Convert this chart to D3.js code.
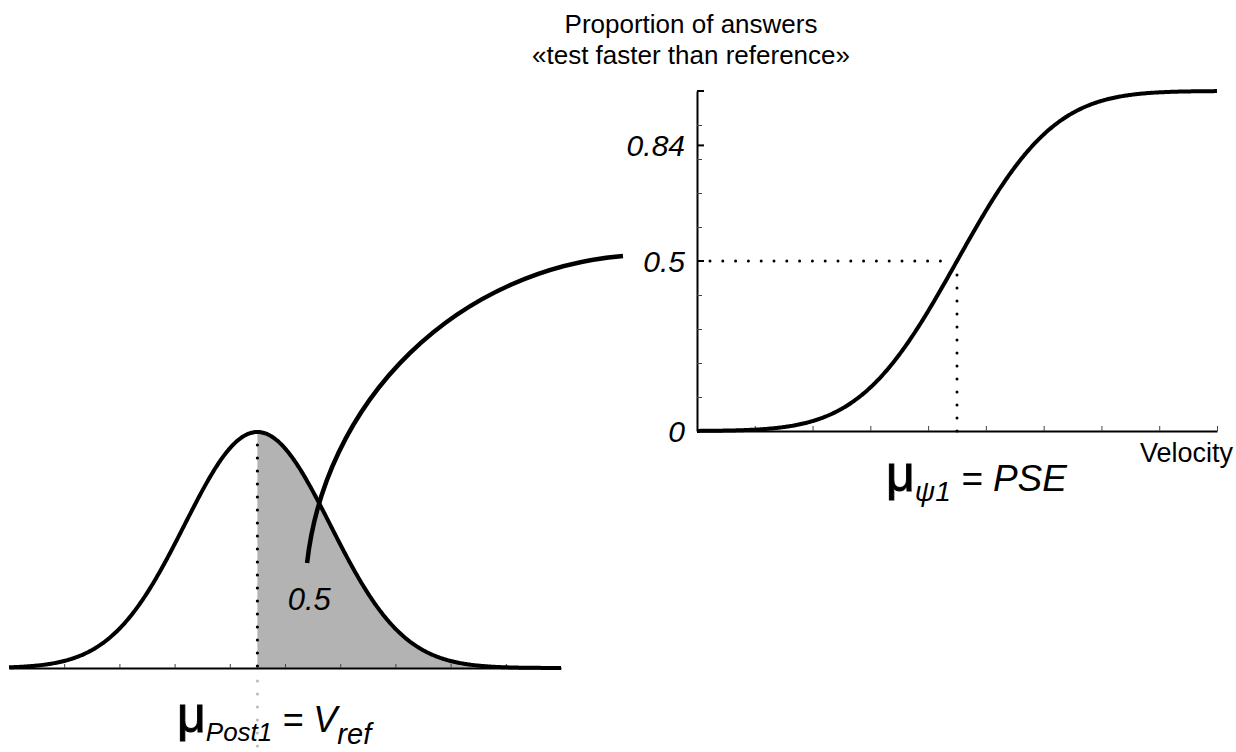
<!DOCTYPE html>
<html>
<head>
<meta charset="utf-8">
<script src="https://cdn.jsdelivr.net/npm/d3@7"></script>
<style>
  body { margin: 0; background: #fff; }
  text { font-family: "Liberation Sans", Arial, sans-serif; fill: #000; }
</style>
</head>
<body>
<svg id="chart" width="1236" height="752"></svg>
<script>
// Posterior of the reference velocity (left) and psychometric function (right)
const postTicks = [1, 2, 3, 4, 5, 6, 7, 8, 9];
const postMean = 4.5;
const postSd = 1.32;
const postAreaLabel = "0.5";

const velocityTicks = [1, 2, 3, 4, 5, 6, 7, 8, 9];
const pseMean = 4.5;
const pseSd = 1.32;
const probTicks = [0.1, 0.2, 0.3, 0.4, 0.5, 0.6, 0.7, 0.8, 0.9, 1.0];
const probLabels = [0, 0.5, 0.84];
const titleLines = ["Proportion of answers", "«test faster than reference»"];
const xAxisName = "Velocity";

const svg = d3.select("#chart");

// normal density (relative to its peak) and cumulative distribution
const relPdf = (x, m, s) => Math.exp(-0.5 * ((x - m) / s) ** 2);
function erf(z) {
  const t = 1 / (1 + 0.3275911 * Math.abs(z));
  const y = 1 - (((((1.061405429 * t - 1.453152027) * t) + 1.421413741) * t - 0.284496736) * t + 0.254829592) * t * Math.exp(-z * z);
  return z >= 0 ? y : -y;
}
const cdf = (x, m, s) => 0.5 * (1 + erf((x - m) / (s * Math.SQRT2)));

// ---------- left panel: posterior ----------
const xL = d3.scaleLinear().domain([0, 10]).range([9, 561]);
const yL = d3.scaleLinear().domain([0, 1]).range([668, 432]);
const gridL = d3.range(0, 10.0001, 0.02);

// shaded half above the mean
svg.append("path")
  .datum(gridL.filter(v => v >= postMean))
  .attr("fill", "#b3b3b3")
  .attr("d", d3.area()
    .x(d => xL(d))
    .y0(yL(0))
    .y1(d => yL(relPdf(d, postMean, postSd))));

// axis
const axL = svg.append("g")
  .attr("transform", `translate(0,${yL(0)})`)
  .call(d3.axisBottom(xL).tickValues(postTicks).tickSize(-4).tickSizeOuter(0).tickFormat(""));
axL.select(".domain").attr("stroke", "#000").attr("stroke-width", 2);
axL.selectAll(".tick line").attr("stroke", "#444").attr("stroke-width", 1);

// mean marker: black dots above axis, grey dots below
svg.append("line")
  .attr("x1", xL(postMean)).attr("x2", xL(postMean))
  .attr("y1", yL(1)).attr("y2", yL(0))
  .attr("stroke", "#000").attr("stroke-width", 3.2)
  .attr("stroke-linecap", "round").attr("stroke-dasharray", "0,13");
svg.append("line")
  .attr("x1", xL(postMean)).attr("x2", xL(postMean))
  .attr("y1", yL(0) + 13).attr("y2", 752)
  .attr("stroke", "#bdbdbd").attr("stroke-width", 3.2)
  .attr("stroke-linecap", "round").attr("stroke-dasharray", "0,13");

// density curve
svg.append("path")
  .datum(gridL)
  .attr("fill", "none").attr("stroke", "#000").attr("stroke-width", 4)
  .attr("d", d3.line().x(d => xL(d)).y(d => yL(relPdf(d, postMean, postSd))));

svg.append("text")
  .attr("x", xL(5.05)).attr("y", yL(0.245))
  .attr("font-size", 31).attr("font-style", "italic")
  .text(postAreaLabel);

const lblL = svg.append("text").attr("x", 177).attr("y", 732);
lblL.append("tspan").attr("font-size", 50).attr("stroke", "#000").attr("stroke-width", 1).text("μ");
lblL.append("tspan").attr("font-size", 26).attr("font-style", "italic").attr("dy", 9).text("Post1");
lblL.append("tspan").attr("font-size", 36).attr("font-style", "italic").attr("dy", -9).text(" = V");
lblL.append("tspan").attr("font-size", 29).attr("font-style", "italic").attr("dy", 12).text("ref");

// ---------- right panel: psychometric function ----------
const xR = d3.scaleLinear().domain([0, 9]).range([697, 1217]);
const yR = d3.scaleLinear().domain([0, 1]).range([431, 91]);
const gridR = d3.range(0, 9.0001, 0.02);

const axY = svg.append("g")
  .attr("transform", `translate(${xR(0)},0)`)
  .call(d3.axisLeft(yR).tickValues(probTicks).tickSize(-5).tickSizeOuter(0).tickFormat(""));
axY.select(".domain").attr("stroke", "#000").attr("stroke-width", 2);
axY.selectAll(".tick line").attr("stroke", "#444").attr("stroke-width", 1);

// emphasised ticks for labelled levels and the top of the scale
svg.append("g").selectAll("line")
  .data([0.5, 0.84, 1.0])
  .join("line")
  .attr("x1", xR(0)).attr("x2", xR(0) + 7)
  .attr("y1", d => yR(d)).attr("y2", d => yR(d))
  .attr("stroke", "#000").attr("stroke-width", 2);

svg.append("g").selectAll("text")
  .data(probLabels)
  .join("text")
  .attr("x", xR(0) - 12).attr("y", d => yR(d))
  .attr("dy", "0.36em")
  .attr("text-anchor", "end")
  .attr("font-size", 30).attr("font-style", "italic")
  .text(d => String(d));

const axX = svg.append("g")
  .attr("transform", `translate(0,${yR(0)})`)
  .call(d3.axisBottom(xR).tickValues(velocityTicks).tickSize(-5).tickSizeOuter(0).tickFormat(""));
axX.select(".domain").attr("stroke", "#000").attr("stroke-width", 2);
axX.selectAll(".tick line").attr("stroke", "#444").attr("stroke-width", 1);

// PSE guide lines
svg.append("line")
  .attr("x1", xR(0) + 13).attr("x2", xR(pseMean) - 6)
  .attr("y1", yR(0.5)).attr("y2", yR(0.5))
  .attr("stroke", "#000").attr("stroke-width", 3)
  .attr("stroke-linecap", "round").attr("stroke-dasharray", "0,12.8");
svg.append("line")
  .attr("x1", xR(pseMean)).attr("x2", xR(pseMean))
  .attr("y1", yR(0)).attr("y2", yR(0.5) + 12)
  .attr("stroke", "#000").attr("stroke-width", 3)
  .attr("stroke-linecap", "round").attr("stroke-dasharray", "0,13");

svg.append("path")
  .datum(gridR)
  .attr("fill", "none").attr("stroke", "#000").attr("stroke-width", 4)
  .attr("d", d3.line().x(d => xR(d)).y(d => yR(cdf(d, pseMean, pseSd))));

svg.append("text")
  .attr("x", 1233).attr("y", 462)
  .attr("text-anchor", "end")
  .attr("font-size", 27)
  .text(xAxisName);

const lblR = svg.append("text").attr("x", 886).attr("y", 491);
lblR.append("tspan").attr("font-size", 50).attr("stroke", "#000").attr("stroke-width", 1).text("μ");
lblR.append("tspan").attr("font-size", 28).attr("font-style", "italic").attr("dy", 10).text("ψ1");
lblR.append("tspan").attr("font-size", 37).attr("font-style", "italic").attr("dy", -10).text(" = PSE");

svg.append("g").selectAll("text")
  .data(titleLines)
  .join("text")
  .attr("x", 691).attr("y", (d, i) => 33 + i * 31)
  .attr("text-anchor", "middle")
  .attr("font-size", 26)
  .text(d => d);

// ---------- connector from the shaded area to the 0.5 level ----------
const cStart = [xL(5.4), yL(0.445)];
const cEnd = [xR(0) - 74, yR(0.5) - 5];
const cRadius = 347;
svg.append("path")
  .attr("fill", "none").attr("stroke", "#000").attr("stroke-width", 4.5)
  .attr("stroke-linecap", "butt")
  .attr("d", `M${cStart[0]},${cStart[1]} A${cRadius},${cRadius} 0 0 1 ${cEnd[0]},${cEnd[1]}`);
</script>
</body>
</html>
